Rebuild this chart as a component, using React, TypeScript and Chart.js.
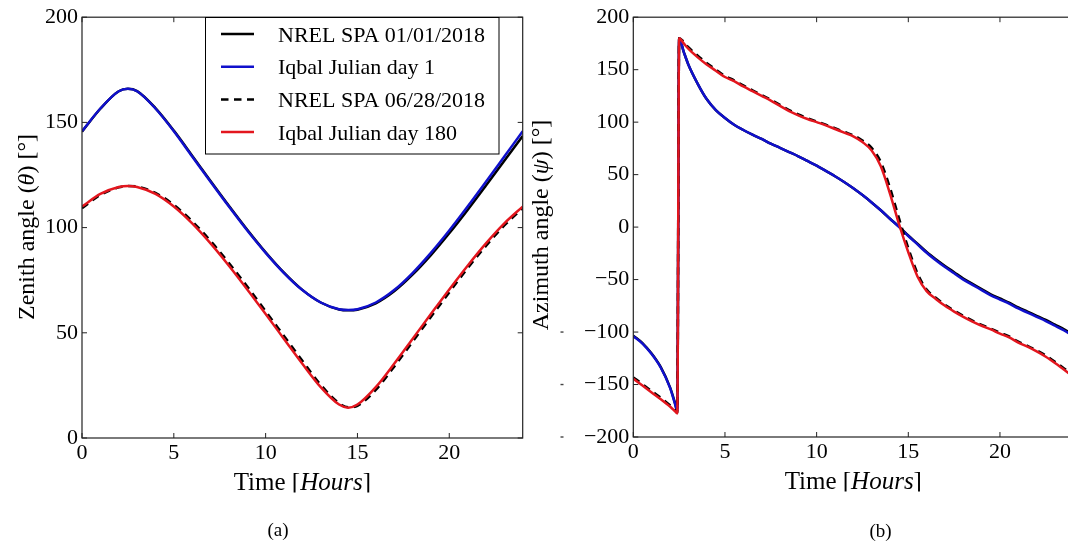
import React, { useEffect, useRef } from "react";
import { Chart, registerables } from "chart.js";

Chart.register(...registerables);

const FONT = "'Liberation Serif', 'Times New Roman', Times, serif";

// ---------- series meta ----------
const seriesLabels = ["NREL SPA 01/01/2018", "Iqbal Julian day 1", "NREL SPA 06/28/2018", "Iqbal Julian day 180"];
const seriesColors = ["#000000", "#1010cc", "#000000", "#e3161e"];
const seriesDashes = [[], [], [7.5, 5.5], []];

// ---------- tick labels ----------
const timeTicks = [0, 5, 10, 15, 20];
const zenithTicks = [0, 50, 100, 150, 200];
const azimuthTicks = [-200, -150, -100, -50, 0, 50, 100, 150, 200];

// ---------- (a) zenith angle ----------
const zenithHours = [0, 1, 2, 2.5, 3, 4, 5, 6, 7, 8, 9, 10, 11, 12, 13, 14, 14.5, 15, 16, 17, 18, 19, 20, 21, 22, 23, 24];
const zenithNrelJan = [145.6, 156.5, 164.8, 166.0, 164.9, 156.8, 146.1, 134.2, 122.2, 110.4, 99.0, 88.3, 78.6, 70.4, 64.4, 61.1, 60.7, 61.0, 64.0, 69.7, 77.6, 86.9, 97.3, 108.4, 120.0, 131.8, 143.5];
const zenithIqbalDay1 = [145.8, 156.6, 164.8, 166.0, 164.8, 156.6, 145.8, 133.8, 121.8, 110.0, 98.6, 88.0, 78.4, 70.3, 64.4, 61.2, 60.8, 61.2, 64.4, 70.3, 78.4, 88.0, 98.6, 110.0, 121.8, 133.8, 145.8];
const zenithNrelJun = [109.2, 115.5, 119.1, 119.8, 119.5, 116.5, 110.8, 103.0, 93.7, 83.2, 72.0, 60.3, 48.5, 36.7, 25.3, 16.5, 14.6, 15.3, 22.9, 33.9, 45.7, 57.5, 69.2, 80.7, 91.3, 101.0, 109.2];
const zenithIqbalDay180 = [110.0, 116.0, 119.3, 119.8, 119.3, 116.0, 110.0, 102.0, 92.5, 81.9, 70.6, 58.9, 47.1, 35.3, 24.2, 15.9, 14.4, 15.9, 24.2, 35.3, 47.1, 58.9, 70.6, 81.9, 92.5, 102.0, 110.0];

// ---------- (b) azimuth angle ----------
const azimuthHours = [0, 0.5, 1, 1.5, 2, 2.25, 2.4, 2.5, 2.75, 3, 3.5, 4, 4.5, 5, 5.5, 6, 6.5, 7, 7.5, 8, 8.5, 9, 9.5, 10, 10.5, 11, 11.5, 12, 12.5, 13, 13.5, 14, 14.5, 15, 15.5, 16, 16.5, 17, 17.5, 18, 18.5, 19, 19.5, 20, 20.5, 21, 21.5, 22, 22.5, 23, 23.5, 24];
const azimuthNrelJan = [-103.5, -110.5, -120.5, -133.5, -152.5, -166, -175, 180, 167, 155, 137, 122, 111.5, 104, 97.5, 92.5, 88, 84, 79.5, 75.5, 71.5, 67.5, 63, 58.5, 53.5, 48.5, 43, 37, 30.5, 23.5, 16, 8, 0.5, -8, -15.8, -23.7, -30.6, -37, -43, -49, -54, -59, -64, -68, -72, -76.5, -80.5, -84.5, -88.5, -93, -97.5, -103];
const azimuthIqbalDay1 = [-104, -111, -121, -134, -153, -167, -175, 180, 167, 155, 137, 122, 111.5, 104, 97.5, 92.5, 88, 84, 79.5, 75.5, 71.5, 67.5, 63, 58.5, 53.5, 48.5, 43, 37, 30.5, 23.5, 16, 8, 0, -8.5, -16.5, -24.5, -31.5, -38, -44, -50, -55, -60, -65, -69, -73, -77.5, -81.5, -85.5, -89.5, -94, -98.5, -104];
const azimuthNrelJun = [-143.2, -149.7, -156.2, -162.6, -169.8, -174, -177, 180, 176.5, 171.5, 163.5, 156.4, 150.2, 144, 139.9, 135, 130.4, 125.9, 121.4, 116.5, 111.4, 107.3, 103.7, 100.6, 97.7, 94.2, 90.7, 87.5, 82.5, 75.5, 62, 37.5, 8, -20, -44, -59.5, -67.3, -74, -79.5, -84.5, -89.1, -93.2, -96.7, -100.7, -104.2, -109.2, -113.1, -117.5, -122.4, -128.3, -134.7, -141.2];
const azimuthIqbalDay180 = [-144.5, -151, -157.5, -164, -171, -175, -177.5, 180, 175, 170, 162, 155, 149, 143, 139, 134, 129.5, 125, 120.5, 115.5, 110.5, 106.5, 103, 100, 97, 93.5, 90, 86.5, 81, 73, 58, 32, 2.5, -24, -47, -61, -68.5, -75, -80.5, -85.5, -90, -94, -97.5, -101.5, -105, -110, -114, -118.5, -123.5, -129.5, -136, -142.5];

type Seg = [string, boolean];
const zenithTitle: Seg[] = [["Zenith angle (", false], ["θ", true], [") [°]", false]];
const azimuthTitle: Seg[] = [["Azimuth angle (", false], ["ψ", true], [") [°]", false]];
const timeTitle: Seg[] = [["Time [", false], ["Hours", true], ["]", false]];

function drawRich(ctx: CanvasRenderingContext2D, segs: Seg[], x: number, y: number, size: number, rotated: boolean) {
  ctx.save();
  const fontOf = (it: boolean) => `${it ? "italic " : ""}${size}px ${FONT}`;
  let total = 0;
  const widths = segs.map(([t, it]) => {
    ctx.font = fontOf(it);
    const w = ctx.measureText(t).width;
    total += w;
    return w;
  });
  ctx.translate(x, y);
  if (rotated) ctx.rotate(-Math.PI / 2);
  ctx.fillStyle = "#000";
  ctx.textBaseline = "alphabetic";
  ctx.textAlign = "left";
  let cx = -total / 2;
  segs.forEach(([t, it], i) => {
    ctx.font = fontOf(it);
    ctx.fillText(t, cx, 0);
    cx += widths[i];
  });
  ctx.restore();
}

type DecorOpts = {
  xTitle: Seg[];
  yTitle: Seg[];
  yTitleX: number;
  yTitleY: number;
  xTitleY: number;
  clipY: number;
  caption: string;
  captionX: number;
  captionY: number;
  legend: boolean;
  marks: number[];
  marksX: number;
};

function makeDecor(o: DecorOpts) {
  return {
    id: "decor",
    afterDraw(chart: any) {
      const ctx: CanvasRenderingContext2D = chart.ctx;
      const a = chart.chartArea;
      const xs = chart.scales.x;
      const ys = chart.scales.y;
      ctx.save();
      // frame
      ctx.strokeStyle = "#222";
      ctx.lineWidth = 1.2;
      ctx.setLineDash([]);
      ctx.strokeRect(a.left, a.top, a.right - a.left, a.bottom - a.top);
      // inward ticks
      ctx.lineWidth = 1;
      ctx.beginPath();
      xs.ticks.forEach((t: any) => {
        const px = xs.getPixelForValue(t.value);
        ctx.moveTo(px, a.bottom);
        ctx.lineTo(px, a.bottom - 5);
        ctx.moveTo(px, a.top);
        ctx.lineTo(px, a.top + 5);
      });
      ys.ticks.forEach((t: any) => {
        const py = ys.getPixelForValue(t.value);
        ctx.moveTo(a.left, py);
        ctx.lineTo(a.left + 5, py);
        ctx.moveTo(a.right, py);
        ctx.lineTo(a.right - 5, py);
      });
      ctx.stroke();
      // small stray marks
      ctx.fillStyle = "#444";
      o.marks.forEach((v) => {
        const py = ys.getPixelForValue(v);
        ctx.fillRect(o.marksX, py - 0.7, 3, 1.4);
      });
      // axis titles
      ctx.save();
      ctx.beginPath();
      ctx.rect(0, 0, chart.width, o.clipY);
      ctx.clip();
      drawRich(ctx, o.xTitle, (a.left + a.right) / 2, o.xTitleY, 25, false);
      ctx.restore();
      drawRich(ctx, o.yTitle, o.yTitleX, o.yTitleY, 24, true);
      // caption
      ctx.fillStyle = "#000";
      ctx.font = `19px ${FONT}`;
      ctx.textAlign = "center";
      ctx.textBaseline = "alphabetic";
      ctx.fillText(o.caption, o.captionX, o.captionY);
      // legend
      if (o.legend) {
        const lx = 205.5, ly = 17.5, lw = 293.5, lh = 136.5;
        ctx.fillStyle = "#fff";
        ctx.fillRect(lx, ly, lw, lh);
        ctx.strokeStyle = "#000";
        ctx.lineWidth = 1;
        ctx.strokeRect(lx, ly, lw, lh);
        chart.data.datasets.forEach((ds: any, i: number) => {
          const cy = 34 + i * 32.7;
          ctx.strokeStyle = ds.borderColor;
          ctx.lineWidth = 2.5;
          ctx.setLineDash(ds.borderDash || []);
          ctx.beginPath();
          ctx.moveTo(221, cy);
          ctx.lineTo(254, cy);
          ctx.stroke();
          ctx.setLineDash([]);
          ctx.fillStyle = "#000";
          ctx.font = `22px ${FONT}`;
          ctx.textAlign = "left";
          ctx.textBaseline = "alphabetic";
          ctx.fillText(ds.label, 278, cy + 7.5);
        });
      }
      ctx.restore();
    },
  };
}

function buildDatasets(hours: number[], series: number[][]) {
  const orders = [4, 3, 2, 1];
  return series.map((vals, i) => ({
    label: seriesLabels[i],
    data: hours.map((h, j) => ({ x: h, y: vals[j] })),
    borderColor: seriesColors[i],
    backgroundColor: seriesColors[i],
    borderWidth: 2.5,
    borderDash: seriesDashes[i],
    pointRadius: 0,
    cubicInterpolationMode: "monotone" as const,
    fill: false,
    order: orders[i],
  }));
}

function buildConfig(opts: {
  hours: number[];
  series: number[][];
  yTicks: number[];
  yMin: number;
  yMax: number;
  yWidth: number;
  xHeight: number;
  padTop: number;
  padRight: number;
  decor: DecorOpts;
}): any {
  const tickFont = { family: FONT, size: 22 };
  return {
    type: "line",
    data: { datasets: buildDatasets(opts.hours, opts.series) },
    options: {
      responsive: false,
      animation: false,
      devicePixelRatio: 1,
      layout: { padding: { left: 0, right: opts.padRight, top: opts.padTop, bottom: 0 } },
      plugins: { legend: { display: false }, tooltip: { enabled: false } },
      scales: {
        x: {
          type: "linear",
          min: 0,
          max: 24,
          grid: { display: false, drawTicks: false },
          border: { display: false },
          afterBuildTicks: (s: any) => {
            s.ticks = timeTicks.map((v) => ({ value: v }));
          },
          afterFit: (s: any) => {
            s.height = opts.xHeight;
          },
          ticks: { color: "#000", font: tickFont, padding: 2, maxRotation: 0, autoSkip: false },
        },
        y: {
          type: "linear",
          min: opts.yMin,
          max: opts.yMax,
          grid: { display: false, drawTicks: false },
          border: { display: false },
          afterBuildTicks: (s: any) => {
            s.ticks = opts.yTicks.map((v) => ({ value: v }));
          },
          afterFit: (s: any) => {
            s.width = opts.yWidth;
          },
          ticks: {
            color: "#000",
            font: tickFont,
            padding: 4,
            autoSkip: false,
            callback: (v: any) => (Number(v) < 0 ? "\u2212" + Math.abs(Number(v)) : String(v)),
          },
        },
      },
    },
    plugins: [makeDecor(opts.decor)],
  };
}

export default function App() {
  const leftRef = useRef<HTMLCanvasElement>(null);
  const rightRef = useRef<HTMLCanvasElement>(null);

  useEffect(() => {
    const left = new Chart(
      leftRef.current as HTMLCanvasElement,
      buildConfig({
        hours: zenithHours,
        series: [zenithNrelJan, zenithIqbalDay1, zenithNrelJun, zenithIqbalDay180],
        yTicks: zenithTicks,
        yMin: 0,
        yMax: 200,
        yWidth: 82,
        xHeight: 108,
        padTop: 14,
        padRight: 3.3,
        decor: {
          xTitle: timeTitle,
          yTitle: zenithTitle,
          yTitleX: 34,
          yTitleY: 227,
          xTitleY: 490,
          clipY: 492.5,
          caption: "(a)",
          captionX: 278,
          captionY: 536,
          legend: true,
          marks: [],
          marksX: 0,
        },
      })
    );
    const right = new Chart(
      rightRef.current as HTMLCanvasElement,
      buildConfig({
        hours: azimuthHours,
        series: [azimuthNrelJan, azimuthIqbalDay1, azimuthNrelJun, azimuthIqbalDay180],
        yTicks: azimuthTicks,
        yMin: -200,
        yMax: 200,
        yWidth: 107.3,
        xHeight: 109,
        padTop: 13,
        padRight: 2.7,
        decor: {
          xTitle: timeTitle,
          yTitle: azimuthTitle,
          yTitleX: 22,
          yTitleY: 225,
          xTitleY: 489,
          clipY: 491.5,
          caption: "(b)",
          captionX: 354.5,
          captionY: 537,
          legend: false,
          marks: [-100, -150, -200],
          marksX: 34.5,
        },
      })
    );
    return () => {
      left.destroy();
      right.destroy();
    };
  }, []);

  return (
    <div
      style={{
        position: "fixed",
        left: 0,
        top: 0,
        width: 1068,
        height: 546,
        overflow: "hidden",
        background: "#fff",
      }}
    >
      <canvas
        ref={leftRef}
        width={526}
        height={546}
        style={{ position: "absolute", left: 0, top: 0, width: 526, height: 546, display: "block" }}
      />
      <canvas
        ref={rightRef}
        width={550}
        height={546}
        style={{ position: "absolute", left: 526, top: 0, width: 550, height: 546, display: "block" }}
      />
    </div>
  );
}
